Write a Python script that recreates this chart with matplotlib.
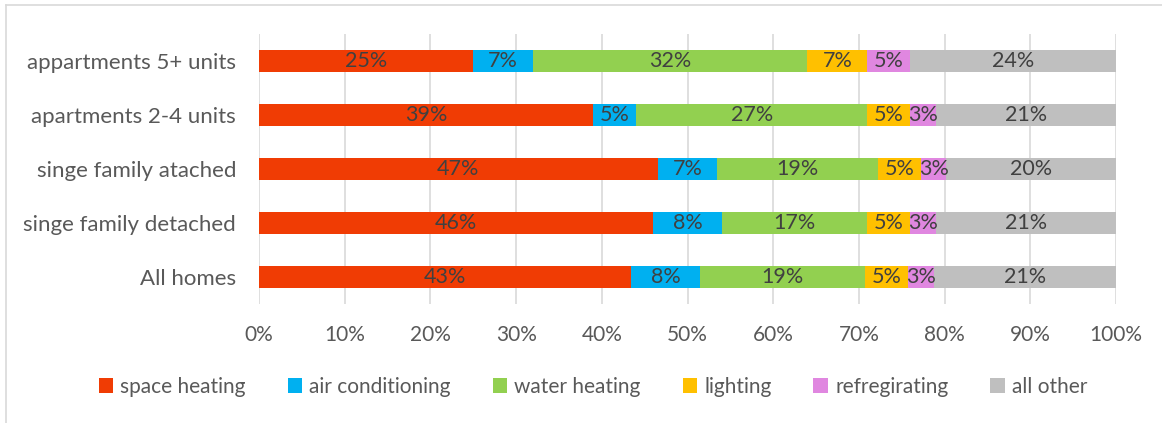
import matplotlib
matplotlib.use("Agg")
import matplotlib.pyplot as plt
from matplotlib.lines import Line2D
from matplotlib.patches import Patch
import numpy as np

plt.rcParams['font.family'] = ['Lato', 'DejaVu Sans']

categories = ["All homes", "singe family detached", "singe family atached",
              "apartments 2-4 units", "appartments 5+ units"]
series_names = ["space heating", "air conditioning", "water heating",
                "lighting", "refregirating", "all other"]
space_heating = [43, 46, 47, 39, 25]
air_conditioning = [8, 8, 7, 5, 7]
water_heating = [19, 17, 19, 27, 32]
lighting = [5, 5, 5, 5, 7]
refregirating = [3, 3, 3, 3, 5]
all_other = [21, 21, 20, 21, 24]
x_ticks = [0, 10, 20, 30, 40, 50, 60, 70, 80, 90, 100]

colors = ["#F03C04", "#00B0F0", "#92D050", "#FFC000", "#E087E0", "#BFBFBF"]

values = np.array([space_heating, air_conditioning, water_heating,
                   lighting, refregirating, all_other], dtype=float)
shares = values / values.sum(axis=0) * 100  # 100% stacked

fig = plt.figure(figsize=(11.62, 4.23), dpi=100)
ax = fig.add_axes([259 / 1162, 1 - 304 / 423, (1116 - 259) / 1162, 270 / 423])

y = np.arange(len(categories))
left = np.zeros(len(categories))
for i, name in enumerate(series_names):
    ax.barh(y, shares[i], left=left, height=0.41, color=colors[i],
            label=name, zorder=3)
    for j in range(len(categories)):
        ax.text(left[j] + shares[i][j] / 2, y[j], f"{int(values[i][j])}%",
                ha="center", va="center", fontsize=15.5, color="#404040",
                zorder=4)
    left += shares[i]

ax.set_xlim(0, 100)
ax.set_ylim(-0.5, len(categories) - 0.5)
ax.set_xticks(x_ticks)
ax.set_xticklabels([f"{t}%" for t in x_ticks])
ax.set_yticks(y)
ax.set_yticklabels(categories, fontsize=16)
ax.tick_params(axis="both", length=0, colors="#595959")
ax.tick_params(axis="x", pad=15, labelsize=15)
ax.tick_params(axis="y", pad=16.5)
ax.grid(axis="x", color="#D9D9D9", linewidth=1.2, zorder=0)
for s in ax.spines.values():
    s.set_visible(False)

handles = [Patch(facecolor=c, label=n) for c, n in zip(colors, series_names)]
fig.legend(handles=handles, loc="center",
           bbox_to_anchor=(593 / 1162, 1 - 387 / 423),
           ncol=6, frameon=False, fontsize=15, labelcolor="#595959",
           handlelength=0.7, handleheight=0.7, handletextpad=0.35,
           columnspacing=2.0)

# outer chart frame (top and left edges)
fig.add_artist(Line2D([6 / 1162, 6 / 1162], [0, 1 - 5 / 423],
                      color="#D9D9D9", linewidth=1.2, transform=fig.transFigure))
fig.add_artist(Line2D([6 / 1162, 1], [1 - 5 / 423, 1 - 5 / 423],
                      color="#D9D9D9", linewidth=1.2, transform=fig.transFigure))

fig.savefig("out.png", dpi=100)
